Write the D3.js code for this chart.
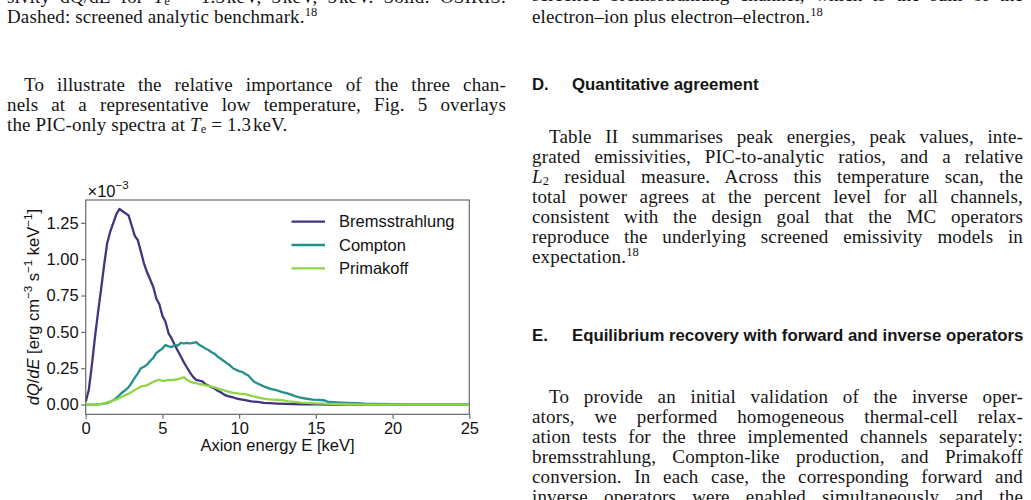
<!DOCTYPE html>
<html>
<head>
<meta charset="utf-8">
<script src="https://cdn.jsdelivr.net/npm/d3@7"></script>
<style>
  body { margin: 0; background: #fff; }
  #page { position: relative; width: 1031px; height: 500px; overflow: hidden; background: #fff; }
  .ln { position: absolute; height: 20px; line-height: 20px; overflow: hidden;
        font-family: "Liberation Serif", "Times New Roman", serif; font-size: 19px;
        letter-spacing: 0.15px; color: #151515; white-space: nowrap; }
  .ln.just { white-space: normal; text-align: justify; text-align-last: justify; }
  .ln sup { font-size: 12.5px; line-height: 0; position: relative; top: -7px; vertical-align: 0; letter-spacing: 0; }
  .ln sub { font-size: 12.5px; line-height: 0; position: relative; top: 2px; vertical-align: 0; letter-spacing: 0; }
  .hd { position: absolute; height: 20px; line-height: 20px; white-space: nowrap;
        font-family: "Liberation Sans", Arial, sans-serif; font-weight: bold; font-size: 16.8px; color: #151515; }
  svg { position: absolute; left: 0; top: 0; }
</style>
</head>
<body>
<div id="page"></div>
<script>
// PIC-only spectra at Te = 1.3 keV, values in units of 1e-3 erg cm^-3 s^-1 keV^-1
const bremsE = [0, 0.2, 0.4, 0.6, 0.8, 1.0, 1.2, 1.4, 1.6, 1.8, 2.0, 2.2, 2.4, 2.6, 2.8, 3.0, 3.2, 3.4, 3.6, 3.8,
  4.0, 4.2, 4.4, 4.6, 4.8, 5.0, 5.2, 5.4, 5.6, 5.8, 6.0, 6.2, 6.4, 6.6, 6.8, 7.0, 7.2, 7.4, 7.6, 7.8,
  8.0, 8.2, 8.4, 8.6, 8.8, 9.0, 9.2, 9.4, 9.6, 9.8, 10.0, 10.4, 10.8, 11.2, 11.6, 12.0, 12.5, 13, 13.5, 14,
  15, 16, 17, 18, 19, 20, 21, 22, 23, 24, 25];
const bremsQ = [0.02, 0.10, 0.27, 0.46, 0.63, 0.79, 0.96, 1.11, 1.19, 1.25, 1.31, 1.345, 1.33, 1.315, 1.30, 1.23, 1.16, 1.13, 1.05, 0.97,
  0.91, 0.86, 0.81, 0.73, 0.69, 0.61, 0.57, 0.49, 0.455, 0.41, 0.37, 0.33, 0.29, 0.255, 0.22, 0.19, 0.17, 0.165, 0.16, 0.14,
  0.13, 0.12, 0.11, 0.095, 0.085, 0.07, 0.06, 0.055, 0.05, 0.042, 0.038, 0.03, 0.022, 0.018, 0.012, 0.01, 0.007, 0.005, 0.003, 0.002,
  0.001, 0, 0, 0, 0, 0, 0, 0, 0, 0, 0];

const comptonE = [0, 0.5, 1.0, 1.4, 1.8, 2.0, 2.2, 2.4, 2.6, 2.8, 3.0, 3.2, 3.4, 3.6, 3.8, 4.0, 4.2, 4.4, 4.6, 4.8,
  5.0, 5.2, 5.4, 5.6, 5.8, 6.0, 6.2, 6.4, 6.6, 6.8, 7.0, 7.2, 7.4, 7.6, 7.8, 8.0, 8.2, 8.4, 8.6, 8.8,
  9.0, 9.2, 9.4, 9.6, 9.8, 10.0, 10.2, 10.4, 10.6, 10.8, 11.0, 11.2, 11.6, 12.0, 12.4, 12.8, 13.2, 13.6, 14.0, 14.4,
  14.8, 15.2, 15.6, 15.8, 16.4, 17.0, 17.6, 18.2, 19.0, 20.0, 21, 25];
const comptonQ = [0, 0, 0.003, 0.01, 0.03, 0.045, 0.065, 0.085, 0.10, 0.12, 0.15, 0.185, 0.215, 0.25, 0.26, 0.275, 0.30, 0.32, 0.355, 0.37,
  0.385, 0.41, 0.40, 0.395, 0.41, 0.405, 0.425, 0.42, 0.425, 0.42, 0.425, 0.43, 0.41, 0.40, 0.385, 0.375, 0.36, 0.35, 0.33, 0.315,
  0.30, 0.285, 0.27, 0.25, 0.24, 0.23, 0.225, 0.21, 0.20, 0.175, 0.155, 0.145, 0.125, 0.11, 0.10, 0.085, 0.075, 0.06, 0.047, 0.04,
  0.034, 0.032, 0.028, 0.018, 0.015, 0.012, 0.01, 0.007, 0.005, 0.002, 0, 0];

const primaE = [0, 0.8, 1.2, 1.6, 2.0, 2.4, 2.8, 3.2, 3.6, 3.8, 4.0, 4.2, 4.4, 4.6, 4.8, 5.0, 5.2, 5.4, 5.6, 5.8,
  6.0, 6.2, 6.4, 6.6, 6.8, 7.0, 7.2, 7.4, 7.6, 7.8, 8.0, 8.4, 8.8, 9.2, 9.6, 10.0, 10.4, 10.8, 11.2, 11.6,
  12.0, 12.4, 12.8, 13.2, 13.6, 14.0, 14.4, 15.0, 16.0, 17, 18, 25];
const primaQ = [0, 0, 0.008, 0.022, 0.035, 0.055, 0.075, 0.10, 0.125, 0.128, 0.132, 0.145, 0.155, 0.165, 0.17, 0.162, 0.165, 0.17, 0.168, 0.172,
  0.175, 0.18, 0.188, 0.17, 0.158, 0.15, 0.148, 0.14, 0.138, 0.132, 0.128, 0.118, 0.105, 0.092, 0.08, 0.075, 0.072, 0.06, 0.05, 0.04,
  0.035, 0.033, 0.03, 0.022, 0.018, 0.014, 0.011, 0.008, 0.005, 0.002, 0, 0];

const seriesNames = ["Bremsstrahlung", "Compton", "Primakoff"];
const seriesColors = ["#45337f", "#23908b", "#8fd744"];
const xTicks = [0, 5, 10, 15, 20, 25];
const yTicks = [0, 0.25, 0.5, 0.75, 1.0, 1.25];

const page = d3.select("#page");

// ---- surrounding paper text ----
function addLine(x, baseline, w, html, justify) {
  page.append("div")
    .attr("class", justify ? "ln just" : "ln")
    .style("left", x + "px")
    .style("top", (baseline - 16) + "px")
    .style("width", w + "px")
    .html(html);
}
const Te = "<i>T</i><sub>e</sub>";
const L = 7, LW = 499, R = 532, RW = 491, ind = 17;

addLine(L, 3, LW, "sivity dQ/dE for " + Te + " = 1.3&#8202;keV, 3&#8202;keV, 5&#8202;keV. Solid: OSIRIS.", true);
addLine(L, 23, LW, "Dashed: screened analytic benchmark.<sup>18</sup>", false);
addLine(L + ind, 91, LW - ind, "To illustrate the relative importance of the three chan-", true);
addLine(L, 111, LW, "nels at a representative low temperature, Fig. 5 overlays", true);
addLine(L, 131, LW, "the PIC-only spectra at " + Te + " = 1.3&#8202;keV.", false);

addLine(R, 1, RW, "screened bremsstrahlung channel, which is the sum of the", true);
addLine(R, 23, RW, "electron–ion plus electron–electron.<sup>18</sup>", false);

function addHead(baseline, num, title) {
  const h = page.append("div").attr("class", "hd").style("top", (baseline - 15) + "px");
  h.append("span").style("position", "absolute").style("left", R + "px").text(num);
  h.append("span").style("position", "absolute").style("left", (R + 40) + "px").text(title);
}
addHead(90, "D.", "Quantitative agreement");
const p2 = [
  "Table II summarises peak energies, peak values, inte-",
  "grated emissivities, PIC-to-analytic ratios, and a relative",
  "<i>L</i><sub>2</sub> residual measure. Across this temperature scan, the",
  "total power agrees at the percent level for all channels,",
  "consistent with the design goal that the MC operators",
  "reproduce the underlying screened emissivity models in",
  "expectation.<sup>18</sup>"
];
p2.forEach((t, i) => addLine(i === 0 ? R + ind : R, 143 + i * 20, i === 0 ? RW - ind : RW, t, i < p2.length - 1));

addHead(341, "E.", "Equilibrium recovery with forward and inverse operators");
const p3 = [
  "To provide an initial validation of the inverse oper-",
  "ators, we performed homogeneous thermal-cell relax-",
  "ation tests for the three implemented channels separately:",
  "bremsstrahlung, Compton-like production, and Primakoff",
  "conversion. In each case, the corresponding forward and",
  "inverse operators were enabled simultaneously and the"
];
p3.forEach((t, i) => addLine(i === 0 ? R + ind : R, 403 + i * 20, i === 0 ? RW - ind : RW, t, true));

// ---- the figure ----
const svg = page.append("svg").attr("width", 1031).attr("height", 500);
const font = "'Liberation Sans', Arial, sans-serif";

const x = d3.scaleLinear().domain([0, 25]).range([85.7, 469.3]);
const y = d3.scaleLinear().domain([-0.067, 1.407]).range([414.3, 200]);

const xAxis = svg.append("g")
  .attr("transform", `translate(0,${y.range()[0]})`)
  .call(d3.axisBottom(x).tickValues(xTicks).tickSize(4.5).tickPadding(3).tickFormat(d3.format("d")));
const yAxis = svg.append("g")
  .attr("transform", `translate(${x.range()[0]},0)`)
  .call(d3.axisLeft(y).tickValues(yTicks).tickSize(4.5).tickPadding(2.5).tickFormat(d3.format(".2f")));

[xAxis, yAxis].forEach(g => {
  g.select(".domain").remove();
  g.selectAll(".tick line").attr("stroke", "#6a6a6a").attr("stroke-width", 1.2);
  g.selectAll(".tick text").attr("fill", "#111").style("font-family", font).style("font-size", "16.5px");
});

// axes frame
svg.append("rect")
  .attr("x", x.range()[0]).attr("y", y.range()[1])
  .attr("width", x.range()[1] - x.range()[0])
  .attr("height", y.range()[0] - y.range()[1])
  .attr("fill", "none").attr("stroke", "#6a6a6a").attr("stroke-width", 1.2);

svg.append("clipPath").attr("id", "plotclip").append("rect")
  .attr("x", x.range()[0]).attr("y", y.range()[1])
  .attr("width", x.range()[1] - x.range()[0])
  .attr("height", y.range()[0] - y.range()[1]);

const series = [
  { name: seriesNames[0], color: seriesColors[0], pts: bremsE.map((e, i) => [e, bremsQ[i]]) },
  { name: seriesNames[1], color: seriesColors[1], pts: comptonE.map((e, i) => [e, comptonQ[i]]) },
  { name: seriesNames[2], color: seriesColors[2], pts: primaE.map((e, i) => [e, primaQ[i]]) }
];

const line = d3.line().x(d => x(d[0])).y(d => y(d[1]));

svg.append("g").attr("clip-path", "url(#plotclip)")
  .selectAll("path")
  .data(series)
  .enter()
  .append("path")
  .attr("d", d => line(d.pts))
  .attr("fill", "none")
  .attr("stroke", d => d.color)
  .attr("stroke-width", 2.3)
  .attr("stroke-linejoin", "round");

// legend
const legend = svg.append("g").attr("transform", "translate(291.5,221.7)");
const items = legend.selectAll("g")
  .data(series)
  .enter()
  .append("g")
  .attr("transform", (d, i) => `translate(0,${i * 23.3})`);
items.append("line")
  .attr("x1", 0).attr("x2", 33.5)
  .attr("stroke", d => d.color).attr("stroke-width", 2.3);
items.append("text")
  .attr("x", 47.5).attr("dy", "0.35em")
  .style("font-family", font).style("font-size", "16.5px").attr("fill", "#111")
  .text(d => d.name);

// offset text x10^-3
const off = svg.append("text").attr("x", 87.5).attr("y", 196.5)
  .style("font-family", font).style("font-size", "16.5px").attr("fill", "#111");
off.append("tspan").text("×10");
off.append("tspan").attr("dy", -8).style("font-size", "11.5px").text("−3");

// axis labels
svg.append("text")
  .attr("x", (x.range()[0] + x.range()[1]) / 2).attr("y", 451)
  .attr("text-anchor", "middle")
  .style("font-family", font).style("font-size", "16.5px").attr("fill", "#111")
  .text("Axion energy E [keV]");

const yl = svg.append("text")
  .attr("transform", `translate(39,${(y.range()[0] + y.range()[1]) / 2}) rotate(-90)`)
  .attr("text-anchor", "middle")
  .style("font-family", font).style("font-size", "16.5px").attr("fill", "#111");
yl.append("tspan").style("font-style", "italic").text("dQ");
yl.append("tspan").text("/");
yl.append("tspan").style("font-style", "italic").text("dE");
yl.append("tspan").text(" [erg cm");
yl.append("tspan").attr("dy", -7).style("font-size", "11.5px").text("−3");
yl.append("tspan").attr("dy", 7).text(" s");
yl.append("tspan").attr("dy", -7).style("font-size", "11.5px").text("−1");
yl.append("tspan").attr("dy", 7).text(" keV");
yl.append("tspan").attr("dy", -7).style("font-size", "11.5px").text("−1");
yl.append("tspan").attr("dy", 7).text("]");
</script>
</body>
</html>
